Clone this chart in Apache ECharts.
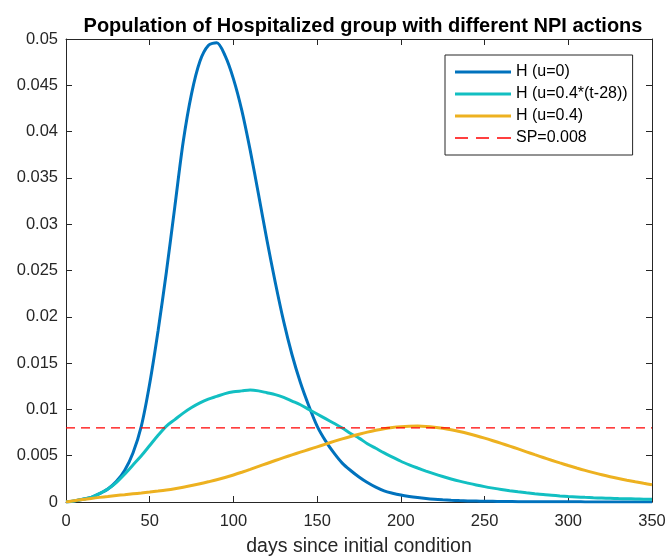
<!DOCTYPE html>
<html>
<head>
<meta charset="utf-8">
<script src="https://cdn.jsdelivr.net/npm/echarts@6/dist/echarts.min.js"></script>
<style>html,body{margin:0;padding:0;background:#fff}#c{width:666px;height:556px}</style>
</head>
<body>
<div id="c"></div>
<script>
const days = [0,5,10,15,20,25,30,35,40,45,50,55,60,65,70,75,80,85,90,95,100,105,110,115,120,125,130,135,140,145,150,155,160,165,170,175,180,185,190,195,200,205,210,215,220,225,230,235,240,245,250,255,260,265,270,275,280,285,290,295,300,305,310,315,320,325,330,335,340,345,350];
const hU0 = [0,0.0001,0.0003,0.0005,0.0009,0.0014,0.0022,0.0034,0.0053,0.0082,0.0128,0.0185,0.0249,0.0319,0.0389,0.0441,0.0476,0.0493,0.0496,0.0482,0.0457,0.0423,0.0380,0.0332,0.0283,0.0237,0.0195,0.0159,0.0129,0.0104,0.0082,0.0066,0.0053,0.0042,0.0034,0.0027,0.0021,0.0016,0.0012,0.00095,0.00075,0.0006,0.00048,0.00038,0.0003,0.00024,0.00019,0.00015,0.00012,0.0001,0.00008,0.00007,0.00006,0.00005,0.00004,0.00004,0.00003,0.00003,0.00002,0.00002,0.00002,0.00002,0.00001,0.00001,0.00001,0.00001,0.00001,0.00001,0.00001,0.00001,0.00001];
const hUt = [0,0.0001,0.0003,0.0005,0.0009,0.0014,0.0021,0.0030,0.0040,0.0050,0.0061,0.0072,0.0082,0.0089,0.0096,0.0102,0.0107,0.0111,0.0114,0.0117,0.0119,0.0120,0.0121,0.0120,0.0118,0.0116,0.0113,0.0109,0.0105,0.0100,0.0095,0.0090,0.0085,0.0080,0.0074,0.0069,0.0063,0.0058,0.0053,0.00485,0.0044,0.00402,0.00367,0.00334,0.00303,0.00275,0.00249,0.00225,0.00204,0.00184,0.00166,0.0015,0.00135,0.00122,0.0011,0.00099,0.00089,0.0008,0.00073,0.00066,0.0006,0.00055,0.0005,0.00046,0.00043,0.0004,0.00037,0.00035,0.00033,0.00031,0.0003];
const hU04 = [0,0.00014,0.00027,0.00039,0.0005,0.0006,0.0007,0.00079,0.00088,0.00097,0.00107,0.00118,0.0013,0.00144,0.0016,0.00178,0.00197,0.00218,0.0024,0.00265,0.00292,0.00321,0.00352,0.00384,0.00416,0.00448,0.00479,0.00509,0.00538,0.00567,0.00596,0.00625,0.00654,0.00682,0.00708,0.00732,0.00755,0.00775,0.00792,0.00805,0.00814,0.00819,0.0082,0.00816,0.00808,0.00796,0.0078,0.00761,0.0074,0.00716,0.0069,0.00662,0.00633,0.00603,0.00573,0.00542,0.00511,0.00481,0.00451,0.00422,0.00394,0.00367,0.00341,0.00317,0.00294,0.00273,0.00253,0.00235,0.00218,0.00202,0.00187];
const spDays = [0, 350];
const spValue = 0.008;
const xTicks = [0,50,100,150,200,250,300,350];
const names = ['H (u=0)','H (u=0.4*(t-28))','H (u=0.4)','SP=0.008'];
const colors = ['#0072BD', '#12BFC2', '#EDB120', '#FF0000'];

const axisColor = '#262626';
const font = 'Liberation Sans, Arial, Helvetica, sans-serif';
const chart = echarts.init(document.getElementById('c'));
const pair = (vals) => days.map((d, i) => [d, vals[i]]);
const solidIcon = 'path://M0,0h56v3h-56z';
const dashIcon = 'path://M0,0h0.01v0.01h-0.01z M55.99,2.99h0.01v0.01h-0.01z M0,0.7h13v1.6h-13z M21,0.7h13v1.6h-13z M42,0.7h14v1.6h-14z';
const baseX = {
  type: 'value', min: xTicks[0], max: xTicks[xTicks.length-1], interval: 50,
  axisLine: {show: true, onZero: false, lineStyle: {color: axisColor, width: 1}},
  axisTick: {show: true, inside: true, length: 6, lineStyle: {color: axisColor}},
  splitLine: {show: false}
};
const baseY = {
  type: 'value', min: 0, max: 0.05, interval: 0.005,
  axisLine: {show: true, onZero: false, lineStyle: {color: axisColor, width: 1}},
  axisTick: {show: true, inside: true, length: 6, lineStyle: {color: axisColor}},
  splitLine: {show: false}
};
const lineSeries = (i, vals, z) => ({
  name: names[i], type: 'line', data: pair(vals), smooth: 0.3,
  symbol: 'none', showSymbol: false, z: z,
  lineStyle: {color: colors[i], width: 3}, itemStyle: {color: colors[i]}
});
chart.setOption({
  animation: false,
  backgroundColor: '#fff',
  textStyle: {fontFamily: font},
  title: {
    text: 'Population of Hospitalized group with different NPI actions',
    left: 358, top: 11, textAlign: 'center',
    textStyle: {fontSize: 20, fontWeight: 'bold', color: '#000', fontFamily: font}
  },
  grid: {left: 66, right: 14, top: 39, bottom: 54, containLabel: false, outerBoundsMode: 'none'},
  legend: {
    orient: 'vertical', left: 445, top: 55,
    padding: [9, 5, 9, 10], itemGap: 6, itemWidth: 56, itemHeight: 3,
    borderColor: axisColor, borderWidth: 1, backgroundColor: '#fff', borderRadius: 0,
    textStyle: {fontSize: 16, color: '#000', fontFamily: font},
    data: [
      {name: names[0], icon: solidIcon, itemStyle: {color: colors[0]}},
      {name: names[1], icon: solidIcon, itemStyle: {color: colors[1]}},
      {name: names[2], icon: solidIcon, itemStyle: {color: colors[2]}},
      {name: names[3], icon: dashIcon, itemStyle: {color: colors[3]}}
    ]
  },
  xAxis: [
    Object.assign({}, baseX, {
      position: 'bottom',
      axisLabel: {color: axisColor, fontSize: 16.5, margin: 11, fontFamily: font},
      name: 'days since initial condition', nameLocation: 'middle', nameGap: 35,
      nameTextStyle: {color: axisColor, fontSize: 19.5, fontFamily: font}
    }),
    Object.assign({}, baseX, {position: 'top', axisLabel: {show: false}})
  ],
  yAxis: [
    Object.assign({}, baseY, {
      position: 'left',
      axisLabel: {color: axisColor, fontSize: 16.5, margin: 8, fontFamily: font,
        formatter: (v) => String(+v.toFixed(3))}
    }),
    Object.assign({}, baseY, {position: 'right', axisLabel: {show: false}})
  ],
  series: [
    lineSeries(0, hU0, 2),
    lineSeries(1, hUt, 3),
    lineSeries(2, hU04, 4),
    {name: names[3], type: 'line', data: spDays.map(d => [d, spValue]), symbol: 'none', showSymbol: false, z: 5,
      lineStyle: {color: colors[3], width: 1.2, type: [9, 6]}, itemStyle: {color: colors[3]}}
  ]
});
</script>
</body>
</html>
